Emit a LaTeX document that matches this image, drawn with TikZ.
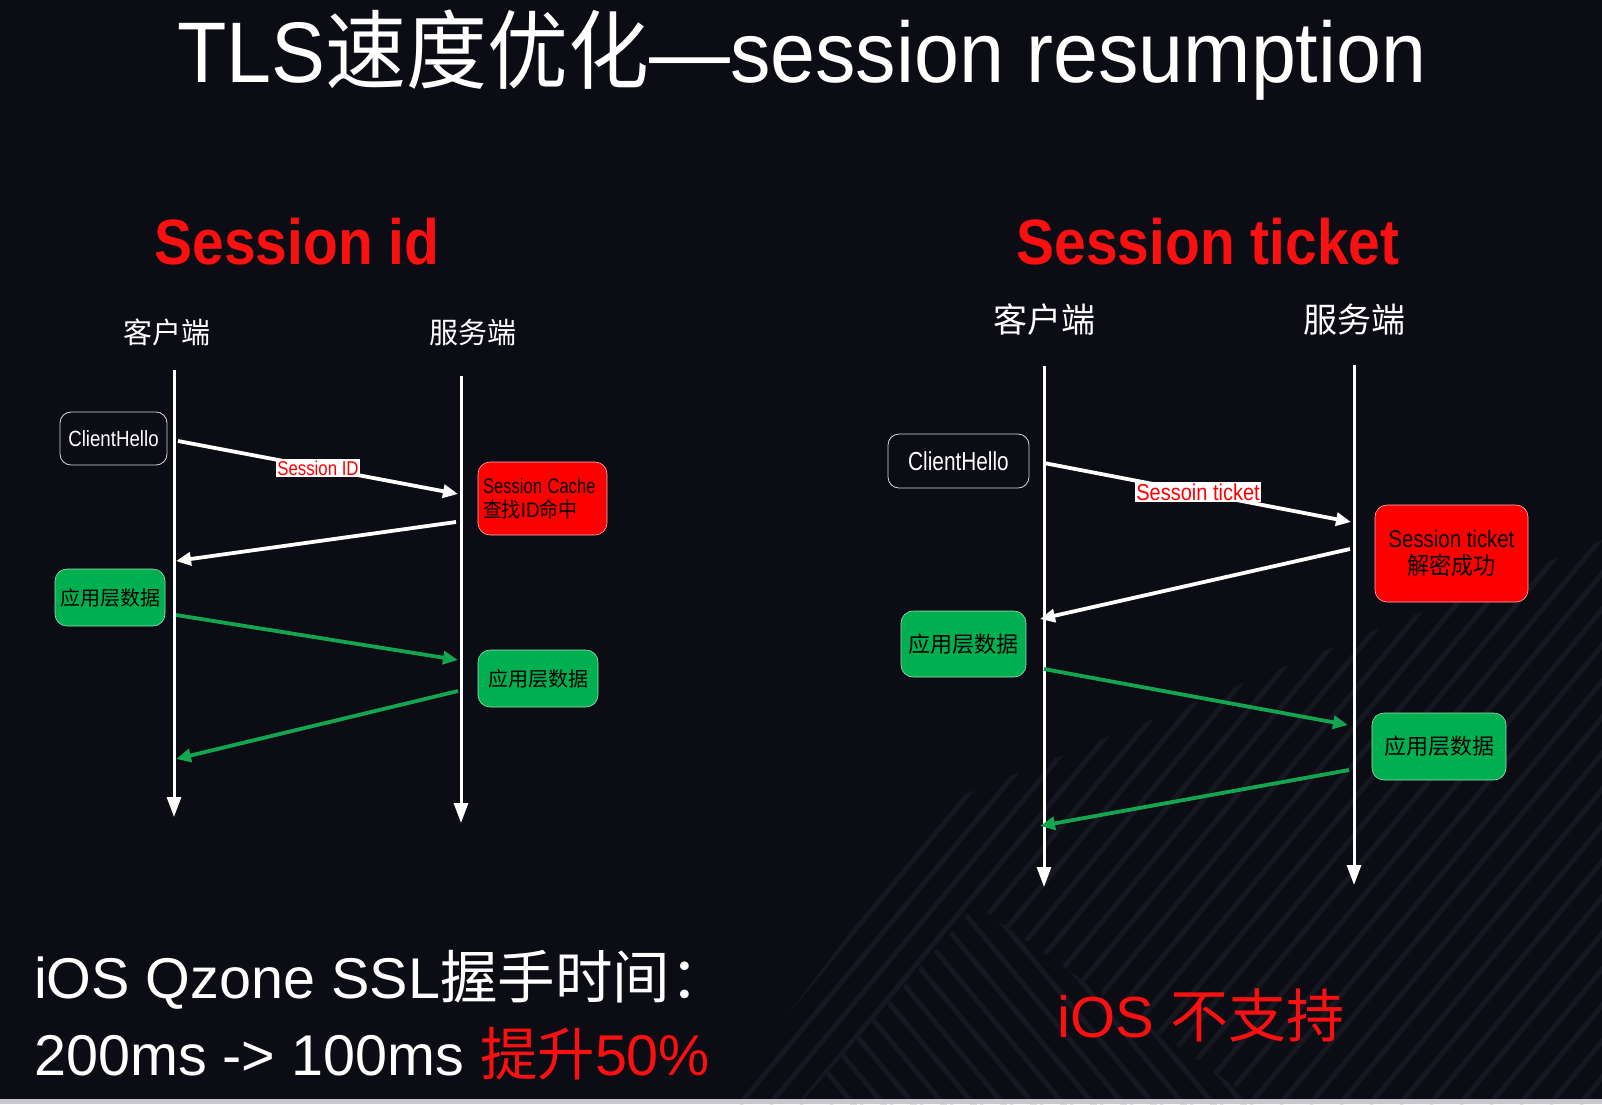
\documentclass[tikz,border=0pt]{standalone}
\usepackage{fontspec}
\usepackage{graphicx}
\setmainfont{Liberation Sans}
\newfontfamily\cjk{Noto Sans CJK SC}
\usetikzlibrary{arrows.meta}
\definecolor{bg}{HTML}{0B0C14}
\definecolor{stripecol}{HTML}{161720}
\definecolor{grn}{RGB}{0,176,80}
\definecolor{garrow}{RGB}{20,165,80}
\definecolor{tred}{RGB}{250,16,16}
\definecolor{edgegray}{HTML}{C8C8CC}
\newcommand{\hs}[2]{\scalebox{#1}[1]{#2}}
\newcommand{\fs}[1]{\fontsize{#1}{#1}\selectfont}
\tikzset{
  life/.style={draw=white, line width=3pt, -{Triangle[length=20pt,width=14pt]}},
  msg/.style={draw=white, line width=3.8pt, -{Triangle[length=15pt,width=13pt]}},
  gmsg/.style={msg, draw=garrow},
  hello/.style={draw=white!85!black, line width=0.8pt, rounded corners=11pt, fill=bg, text=white, inner sep=0pt, align=center},
  redbox/.style={draw=white!70!red, line width=0.6pt, rounded corners=12pt, fill=red, text=black, inner sep=0pt},
  greenbox/.style={draw=white!60!grn, line width=0.6pt, rounded corners=12pt, fill=grn, text=black, inner sep=0pt, align=center},
  tag/.style={fill=white, text=red, inner xsep=1pt, inner ysep=2pt},
  stripe/.style={draw=stripecol, line width=5pt},
  plain/.style={inner sep=0pt, anchor=base},
}
\begin{document}
\begin{tikzpicture}[x=1pt,y=-1pt]
\useasboundingbox (0,0) rectangle (1602,1104);
\fill[bg] (0,0) rectangle (1602,1104);
% background stripes
\begin{scope}
\clip (720,1104) -- (950,800) -- (1602,540) -- (1602,1104) -- cycle;
\foreach \i in {0,...,40} { \draw[stripe] (560+\i*30,1104) -- ++(600,-720); }
\end{scope}
\begin{scope}
\clip (800,1104) -- (975,905) -- (1260,1104) -- cycle;
\fill[bg] (700,880) rectangle (1300,1104);
\foreach \i in {0,...,20} { \draw[stripe] (600+\i*30,800) -- ++(300,360); }
\end{scope}
\fill[edgegray] (0,1099) rectangle (1602,1104);

% title
\node[plain, text=white, font=\fs{86}] (title) at (802,82) {\hs{0.94}{TLS{\cjk 速度优化}—session resumption}};

% ===== left: Session id =====
\node[plain, text=tred, font=\bfseries\fs{64}] (hid) at (297,264) {\hs{0.89}{Session id}};
\node[plain, text=white, font=\cjk\fs{29}] (lcl) at (167,343) {客户端};
\node[plain, text=white, font=\cjk\fs{29}] (lsv) at (473,343) {服务端};

\coordinate (lct) at (174,370);
\coordinate (lcb) at (174,817);
\coordinate (lst) at (461,376);
\coordinate (lsb) at (461,823);
\draw[life] (lct) -- (lcb);
\draw[life] (lst) -- (lsb);

\node[hello, minimum width=107pt, minimum height=53pt, font=\fs{22}] (lhello) at (113.5,438.5) {\hs{0.85}{ClientHello}};
\node[redbox, minimum height=73pt, text width=119pt, inner xsep=5pt, align=left, font=\fs{21}] (lcache) at (542.5,498.5)
  {\hs{0.79}{Session Cache}\\[3pt]\hs{0.9}{{\cjk 查找}ID{\cjk 命中}}};
\node[greenbox, minimum width=110pt, minimum height=57pt, font=\cjk\fs{20}] (lapp1) at (110,597.5) {应用层数据};
\node[greenbox, minimum width=120pt, minimum height=57pt, font=\cjk\fs{20}] (lapp2) at (538,678.5) {应用层数据};

\coordinate (la1s) at (178,441);
\coordinate (la1e) at (458,494);
\coordinate (la2s) at (456,522);
\coordinate (la2e) at (176,561);
\coordinate (la3s) at (176,615);
\coordinate (la3e) at (458,660);
\coordinate (la4s) at (458,691);
\coordinate (la4e) at (176,759);
\draw[msg] (la1s) -- (la1e);
\node[tag, font=\fs{20}] (lsid) at (318,468) {\hs{0.84}{Session ID}};
\draw[msg] (la2s) -- (la2e);
\draw[gmsg] (la3s) -- (la3e);
\draw[gmsg] (la4s) -- (la4e);

% ===== right: Session ticket =====
\node[plain, text=tred, font=\bfseries\fs{64}] (hticket) at (1208,264) {\hs{0.89}{Session ticket}};
\node[plain, text=white, font=\cjk\fs{34}] (rcl) at (1044,332) {客户端};
\node[plain, text=white, font=\cjk\fs{34}] (rsv) at (1354,332) {服务端};

\coordinate (rct) at (1044,366);
\coordinate (rcb) at (1044,887);
\coordinate (rst) at (1354,365);
\coordinate (rsb) at (1354,885);
\draw[life] (rct) -- (rcb);
\draw[life] (rst) -- (rsb);

\node[hello, minimum width=141pt, minimum height=54pt, font=\fs{26}] (rhello) at (958.5,461) {\hs{0.8}{ClientHello}};
\node[redbox, minimum width=153pt, minimum height=97pt, align=center, font=\fs{24}] (rdec) at (1451.5,553.5)
  {\hs{0.85}{Session ticket}\\[3pt]\hs{0.92}{\cjk 解密成功}};
\node[greenbox, minimum width=125pt, minimum height=66pt, font=\cjk\fs{22}] (rapp1) at (963.5,644) {应用层数据};
\node[greenbox, minimum width=134pt, minimum height=67pt, font=\cjk\fs{22}] (rapp2) at (1439,746.5) {应用层数据};

\coordinate (ra1s) at (1044,463);
\coordinate (ra1e) at (1351,522);
\coordinate (ra2s) at (1350,549);
\coordinate (ra2e) at (1040,619);
\coordinate (ra3s) at (1044,669);
\coordinate (ra3e) at (1348,725);
\coordinate (ra4s) at (1349,770);
\coordinate (ra4e) at (1040,826);
\draw[msg] (ra1s) -- (ra1e);
\node[tag, font=\fs{23}] (rtk) at (1198,492) {\hs{0.87}{Sessoin ticket}};
\draw[msg] (ra2s) -- (ra2e);
\draw[gmsg] (ra3s) -- (ra3e);
\draw[gmsg] (ra4s) -- (ra4e);

% ===== bottom texts =====
\node[plain, anchor=base west, text=white, font=\fs{57.5}] (qz1) at (34,998) {iOS Qzone SSL{\cjk 握手时间：}};
\node[plain, anchor=base west, text=white, font=\fs{57.5}] (qz2) at (34,1075) {200ms -> 100ms \textcolor{tred}{{\cjk 提升}50\%}};
\node[plain, anchor=base west, text=tred, font=\fs{58}] (nosup) at (1057,1037) {iOS {\cjk 不支持}};
\end{tikzpicture}
\end{document}
